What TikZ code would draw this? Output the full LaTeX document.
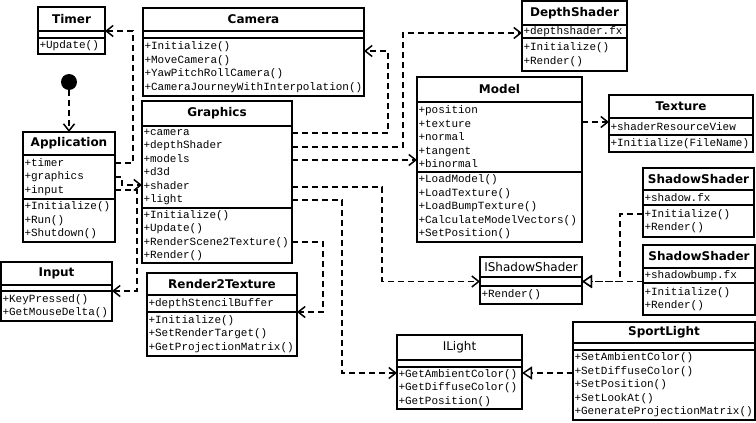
\documentclass[tikz,border=0pt]{standalone}
\usepackage{fontspec}
\setmonofont{Liberation Mono}
\newfontfamily\titlefont{DejaVu Sans}
\usetikzlibrary{arrows.meta, positioning, calc}
\tikzset{
  clstitle/.style 2 args={
    rectangle, draw=black, fill=white, line width=1.4pt, outer sep=0pt,
    minimum width=#1pt, minimum height=#2pt, inner sep=0pt,
    font=\titlefont\bfseries\fontsize{12}{13}\selectfont
  },
  ifctitle/.style 2 args={
    clstitle={#1}{#2}, font=\titlefont\fontsize{12}{13}\selectfont
  },
  members/.style 2 args={
    rectangle, draw=black, fill=white, line width=1.4pt, outer sep=0pt,
    text width=#1pt, minimum height=#2pt, inner xsep=1.5pt, inner ysep=0pt,
    align=left, font=\ttfamily\fontsize{11}{13.5}\selectfont
  },
  initial/.style={
    circle, fill=black, minimum size=16pt, inner sep=0pt
  },
  dep/.style={
    line width=1.5pt, dash pattern=on 6pt off 4pt,
    -{Straight Barb[length=7pt,width=11pt]}
  },
  real/.style={
    line width=1.5pt, dash pattern=on 6pt off 4pt,
    -{Triangle[fill=white,length=10pt,width=13pt]}
  },
}
\begin{document}
\begin{tikzpicture}[x=1pt, y=-1pt]
\useasboundingbox (0,0) rectangle (756,423);

%% ── classes, left column ─────────────────────────────────────
% Timer
\node[clstitle={67}{24}, anchor=north west] (tmr) at (38,7) {Timer};
\node[members={64}{7}, below=0pt of tmr] (tmr-a) {};
\node[members={64}{16}, below=0pt of tmr-a] (tmr-m) {+Update()};

% start state
\node[initial] (init) at (69,82) {};

% Application
\node[clstitle={92}{23}, anchor=north west] (app) at (23,132) {Application};
\node[members={89}{44}, below=0pt of app] (app-a) {+timer\\+graphics\\+input};
\node[members={89}{43}, below=0pt of app-a] (app-m)
  {+Initialize()\\+Run()\\+Shutdown()};

% Input
\node[clstitle={111}{23}, anchor=north west] (inp) at (1,262) {Input};
\node[members={108}{6}, below=0pt of inp] (inp-a) {};
\node[members={108}{30}, below=0pt of inp-a] (inp-m)
  {+KeyPressed()\\+GetMouseDelta()};

%% ── classes, middle ──────────────────────────────────────────
% Camera
\node[clstitle={221}{23}, anchor=north west] (cam) at (143,8) {Camera};
\node[members={218}{7}, below=0pt of cam] (cam-a) {};
\node[members={218}{58}, below=0pt of cam-a] (cam-m)
  {+Initialize()\\+MoveCamera()\\+YawPitchRollCamera()\\+CameraJourneyWithInterpolation()};

% Graphics
\node[clstitle={150}{25}, anchor=north west] (gfx) at (142,101) {Graphics};
\node[members={147}{82}, below=0pt of gfx] (gfx-a)
  {+camera\\+depthShader\\+models\\+d3d\\+shader\\+light};
\node[members={147}{55}, below=0pt of gfx-a] (gfx-m)
  {+Initialize()\\+Update()\\+RenderScene2Texture()\\+Render()};

% Render2Texture
\node[clstitle={150}{22}, anchor=north west] (r2t) at (147,273) {Render2Texture};
\node[members={147}{17}, below=0pt of r2t] (r2t-a) {+depthStencilBuffer};
\node[members={147}{44}, below=0pt of r2t-a] (r2t-m)
  {+Initialize()\\+SetRenderTarget()\\+GetProjectionMatrix()};

% DepthShader
\node[clstitle={105}{24}, anchor=north west] (dsh) at (522,1) {DepthShader};
\node[members={102}{13}, below=0pt of dsh] (dsh-a) {+depthshader.fx};
\node[members={102}{33}, below=0pt of dsh-a] (dsh-m) {+Initialize()\\+Render()};

% Model
\node[clstitle={165}{25}, anchor=north west] (mdl) at (417,77) {Model};
\node[members={162}{70}, below=0pt of mdl] (mdl-a)
  {+position\\+texture\\+normal\\+tangent\\+binormal};
\node[members={162}{70}, below=0pt of mdl-a] (mdl-m)
  {+LoadModel()\\+LoadTexture()\\+LoadBumpTexture()\\+CalculateModelVectors()\\+SetPosition()};

% IShadowShader
\node[ifctitle={102}{20}, anchor=north west] (ish) at (480,257) {IShadowShader};
\node[members={99}{9}, below=0pt of ish] (ish-a) {};
\node[members={99}{18}, below=0pt of ish-a] (ish-m) {+Render()};

% ILight
\node[ifctitle={125}{25}, anchor=north west] (ilt) at (397,335) {ILight};
\node[members={122}{7}, below=0pt of ilt] (ilt-a) {};
\node[members={122}{42}, below=0pt of ilt-a] (ilt-m)
  {+GetAmbientColor()\\+GetDiffuseColor()\\+GetPosition()};

%% ── classes, right column ────────────────────────────────────
% Texture
\node[clstitle={144}{23}, anchor=north west] (tex) at (609,95) {Texture};
\node[members={141}{17}, below=0pt of tex] (tex-a) {+shaderResourceView};
\node[members={141}{17}, below=0pt of tex-a] (tex-m) {+Initialize(FileName)};

% ShadowShader (shadow.fx)
\node[clstitle={111}{22}, anchor=north west] (ss1) at (643,168) {ShadowShader};
\node[members={108}{15}, below=0pt of ss1] (ss1-a) {+shadow.fx};
\node[members={108}{32}, below=0pt of ss1-a] (ss1-m) {+Initialize()\\+Render()};

% ShadowShader (shadowbump.fx)
\node[clstitle={112}{23}, anchor=north west] (ss2) at (643,245) {ShadowShader};
\node[members={109}{15}, below=0pt of ss2] (ss2-a) {+shadowbump.fx};
\node[members={109}{32}, below=0pt of ss2-a] (ss2-m) {+Initialize()\\+Render()};

% SportLight
\node[clstitle={182}{21}, anchor=north west] (spl) at (573,322) {SportLight};
\node[members={179}{7}, below=0pt of spl] (spl-a) {};
\node[members={179}{70}, below=0pt of spl-a] (spl-m)
  {+SetAmbientColor()\\+SetDiffuseColor()\\+SetPosition()\\+SetLookAt()\\+GenerateProjectionMatrix()};

%% ── dependencies ─────────────────────────────────────────────
\draw[dep] (init) -- (app.north);

\draw[dep] ($(app-a.north east)+(0,8)$) -- ++(18,0) |- (tmr.south east);
\draw[dep] ($(app-a.north east)+(0,22)$) -- ++(7,0) |- ($(gfx-a.north west)+(0,59)$);
\draw[dep] ($(app-a.north east)+(0,35)$) -- ++(22,0) |- (inp-m.north east);

\draw[dep] ($(gfx-a.north east)+(0,7)$) -- ++(96,0) |- ($(cam-m.north east)+(0,13)$);
\draw[dep] ($(gfx-a.north east)+(0,21)$) -- ++(111,0) |- ($(dsh-a.north west)+(0,8)$);
\draw[dep] ($(gfx-a.north east)+(0,34)$) coordinate (g2m) -- (g2m -| mdl.west);
\draw[dep] ($(gfx-a.north east)+(0,61)$) -- ++(90,0) |- (ish-a.west);
\draw[dep] ($(gfx-a.north east)+(0,74)$) -- ++(50,0) |- ($(ilt-m.north west)+(0,6)$);
\draw[dep] ($(gfx-m.north east)+(0,34)$) -- ++(31,0) |- (r2t-m.north east);

\draw[dep] ($(mdl-a.north east)+(0,20)$) coordinate (m2t) -- (m2t -| tex.west);

%% ── realizations ─────────────────────────────────────────────
\draw[real] ($(ss1-m.north west)+(0,9)$) -- ++(-23,0) |- (ish-a.east);
\draw[real] (ss2-a.west |- ish-a.east) -- (ish-a.east);
\coordinate (sl) at ($(ilt-m.north east)+(0,6)$);
\draw[real] (spl-m.west |- sl) -- (sl);

\end{tikzpicture}
\end{document}
